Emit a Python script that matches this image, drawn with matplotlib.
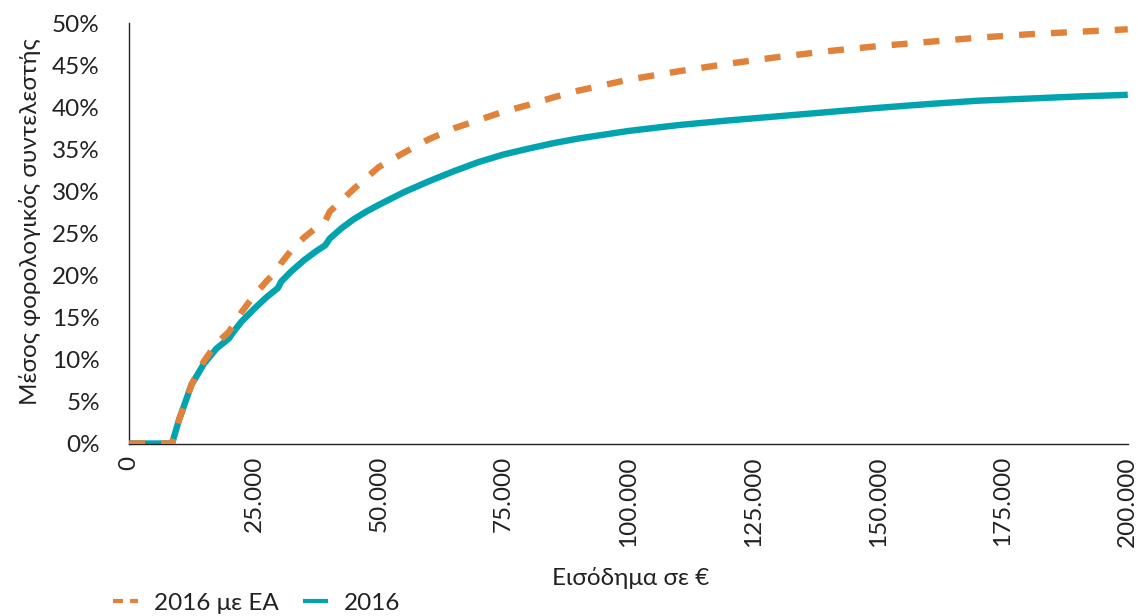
import matplotlib
matplotlib.use("Agg")
import matplotlib.pyplot as plt
from matplotlib.lines import Line2D

plt.rcParams['font.family'] = ['Lato', 'DejaVu Sans']

# ---- data ----
income = [0, 8600, 10000, 12500, 15000, 17500, 20000, 20800, 22500, 25000,
          27500, 29800, 30500, 32500, 35000, 37500, 39300, 40200, 42500, 45000,
          47500, 50000, 55000, 60000, 65000, 70000, 75000, 80000, 85000, 90000, 100000,
          110000, 120000, 130000, 140000, 150000, 160000, 170000, 180000, 190000, 200000]

rate_2016 = [0, 0, 2.8, 7.0, 9.5, 11.3, 12.5, 13.2, 14.5, 16.0,
             17.4, 18.5, 19.3, 20.5, 21.8, 22.9, 23.6, 24.4, 25.6, 26.7,
             27.6, 28.4, 29.9, 31.2, 32.4, 33.5, 34.4, 35.1, 35.75, 36.3, 37.2,
             37.9, 38.45, 38.95, 39.45, 39.95, 40.4, 40.8, 41.05, 41.3, 41.5]

rate_2016_ea = [0, 0, 2.8, 7.0, 9.8, 11.9, 13.3, 14.0, 15.6, 17.6,
                19.3, 20.7, 21.5, 23.0, 24.5, 25.7, 26.5, 27.6, 28.9, 30.3,
                31.6, 32.9, 34.6, 36.2, 37.5, 38.5, 39.5, 40.3, 41.2, 42.0, 43.3,
                44.3, 45.2, 46.0, 46.7, 47.3, 47.8, 48.3, 48.7, 49.0, 49.3]

x_ticks = [0, 25000, 50000, 75000, 100000, 125000, 150000, 175000, 200000]
x_tick_labels = ["0", "25.000", "50.000", "75.000", "100.000", "125.000",
                 "150.000", "175.000", "200.000"]
y_ticks = [0, 5, 10, 15, 20, 25, 30, 35, 40, 45, 50]
y_tick_labels = ["0%", "5%", "10%", "15%", "20%", "25%", "30%", "35%", "40%", "45%", "50%"]

series_labels = ["2016 με ΕΑ", "2016"]

TEAL = "#00A3AE"
ORANGE = "#E0823A"
TEXT = "#222222"
FS = 17.5

fig = plt.figure(figsize=(11.38, 6.16), dpi=100)
ax = fig.add_axes([0.1134, 0.28, 0.8776, 0.682])

ax.plot(income, rate_2016, color=TEAL, lw=4.6, solid_capstyle='butt',
        solid_joinstyle='round', zorder=2)
ax.plot(income, rate_2016_ea, color=ORANGE, lw=4.6, dashes=(2.5, 2.5),
        dash_capstyle='butt', zorder=3)

ax.set_xlim(0, 200000)
ax.set_ylim(0, 50)
ax.set_xticks(x_ticks)
ax.set_xticklabels(x_tick_labels, rotation=90, fontsize=FS)
ax.set_yticks(y_ticks)
ax.set_yticklabels(y_tick_labels, fontsize=FS)
ax.tick_params(axis='y', length=0, pad=21, colors=TEXT)
ax.tick_params(axis='x', length=0, pad=9, colors=TEXT)

for s in ['top', 'right']:
    ax.spines[s].set_visible(False)
for s in ['left', 'bottom']:
    ax.spines[s].set_color(TEXT)
    ax.spines[s].set_linewidth(1.0)

ax.set_ylabel("Μέσος φορολογικός συντελεστής", fontsize=FS, color=TEXT)
ax.yaxis.label.set_va('center')
ax.yaxis.label.set_ha('center')
ax.yaxis.set_label_coords(-0.099, 0.527)

ax.set_xlabel("Εισόδημα σε €", fontsize=FS, color=TEXT)
ax.xaxis.label.set_va('center')
ax.xaxis.label.set_ha('center')
ax.xaxis.set_label_coords(0.502, -0.320)

handles = [
    Line2D([], [], color=ORANGE, lw=3.0, dashes=(2.4, 1.7), dash_capstyle='butt'),
    Line2D([], [], color=TEAL, lw=3.0, solid_capstyle='butt'),
]
fig.legend(handles, series_labels, loc='center left', bbox_to_anchor=(0.0993, 0.021),
           ncol=2, frameon=False, fontsize=FS, handlelength=1.03, handletextpad=0.66,
           columnspacing=1.0, borderpad=0, borderaxespad=0, labelcolor=TEXT)

fig.savefig("out.png", dpi=100)
